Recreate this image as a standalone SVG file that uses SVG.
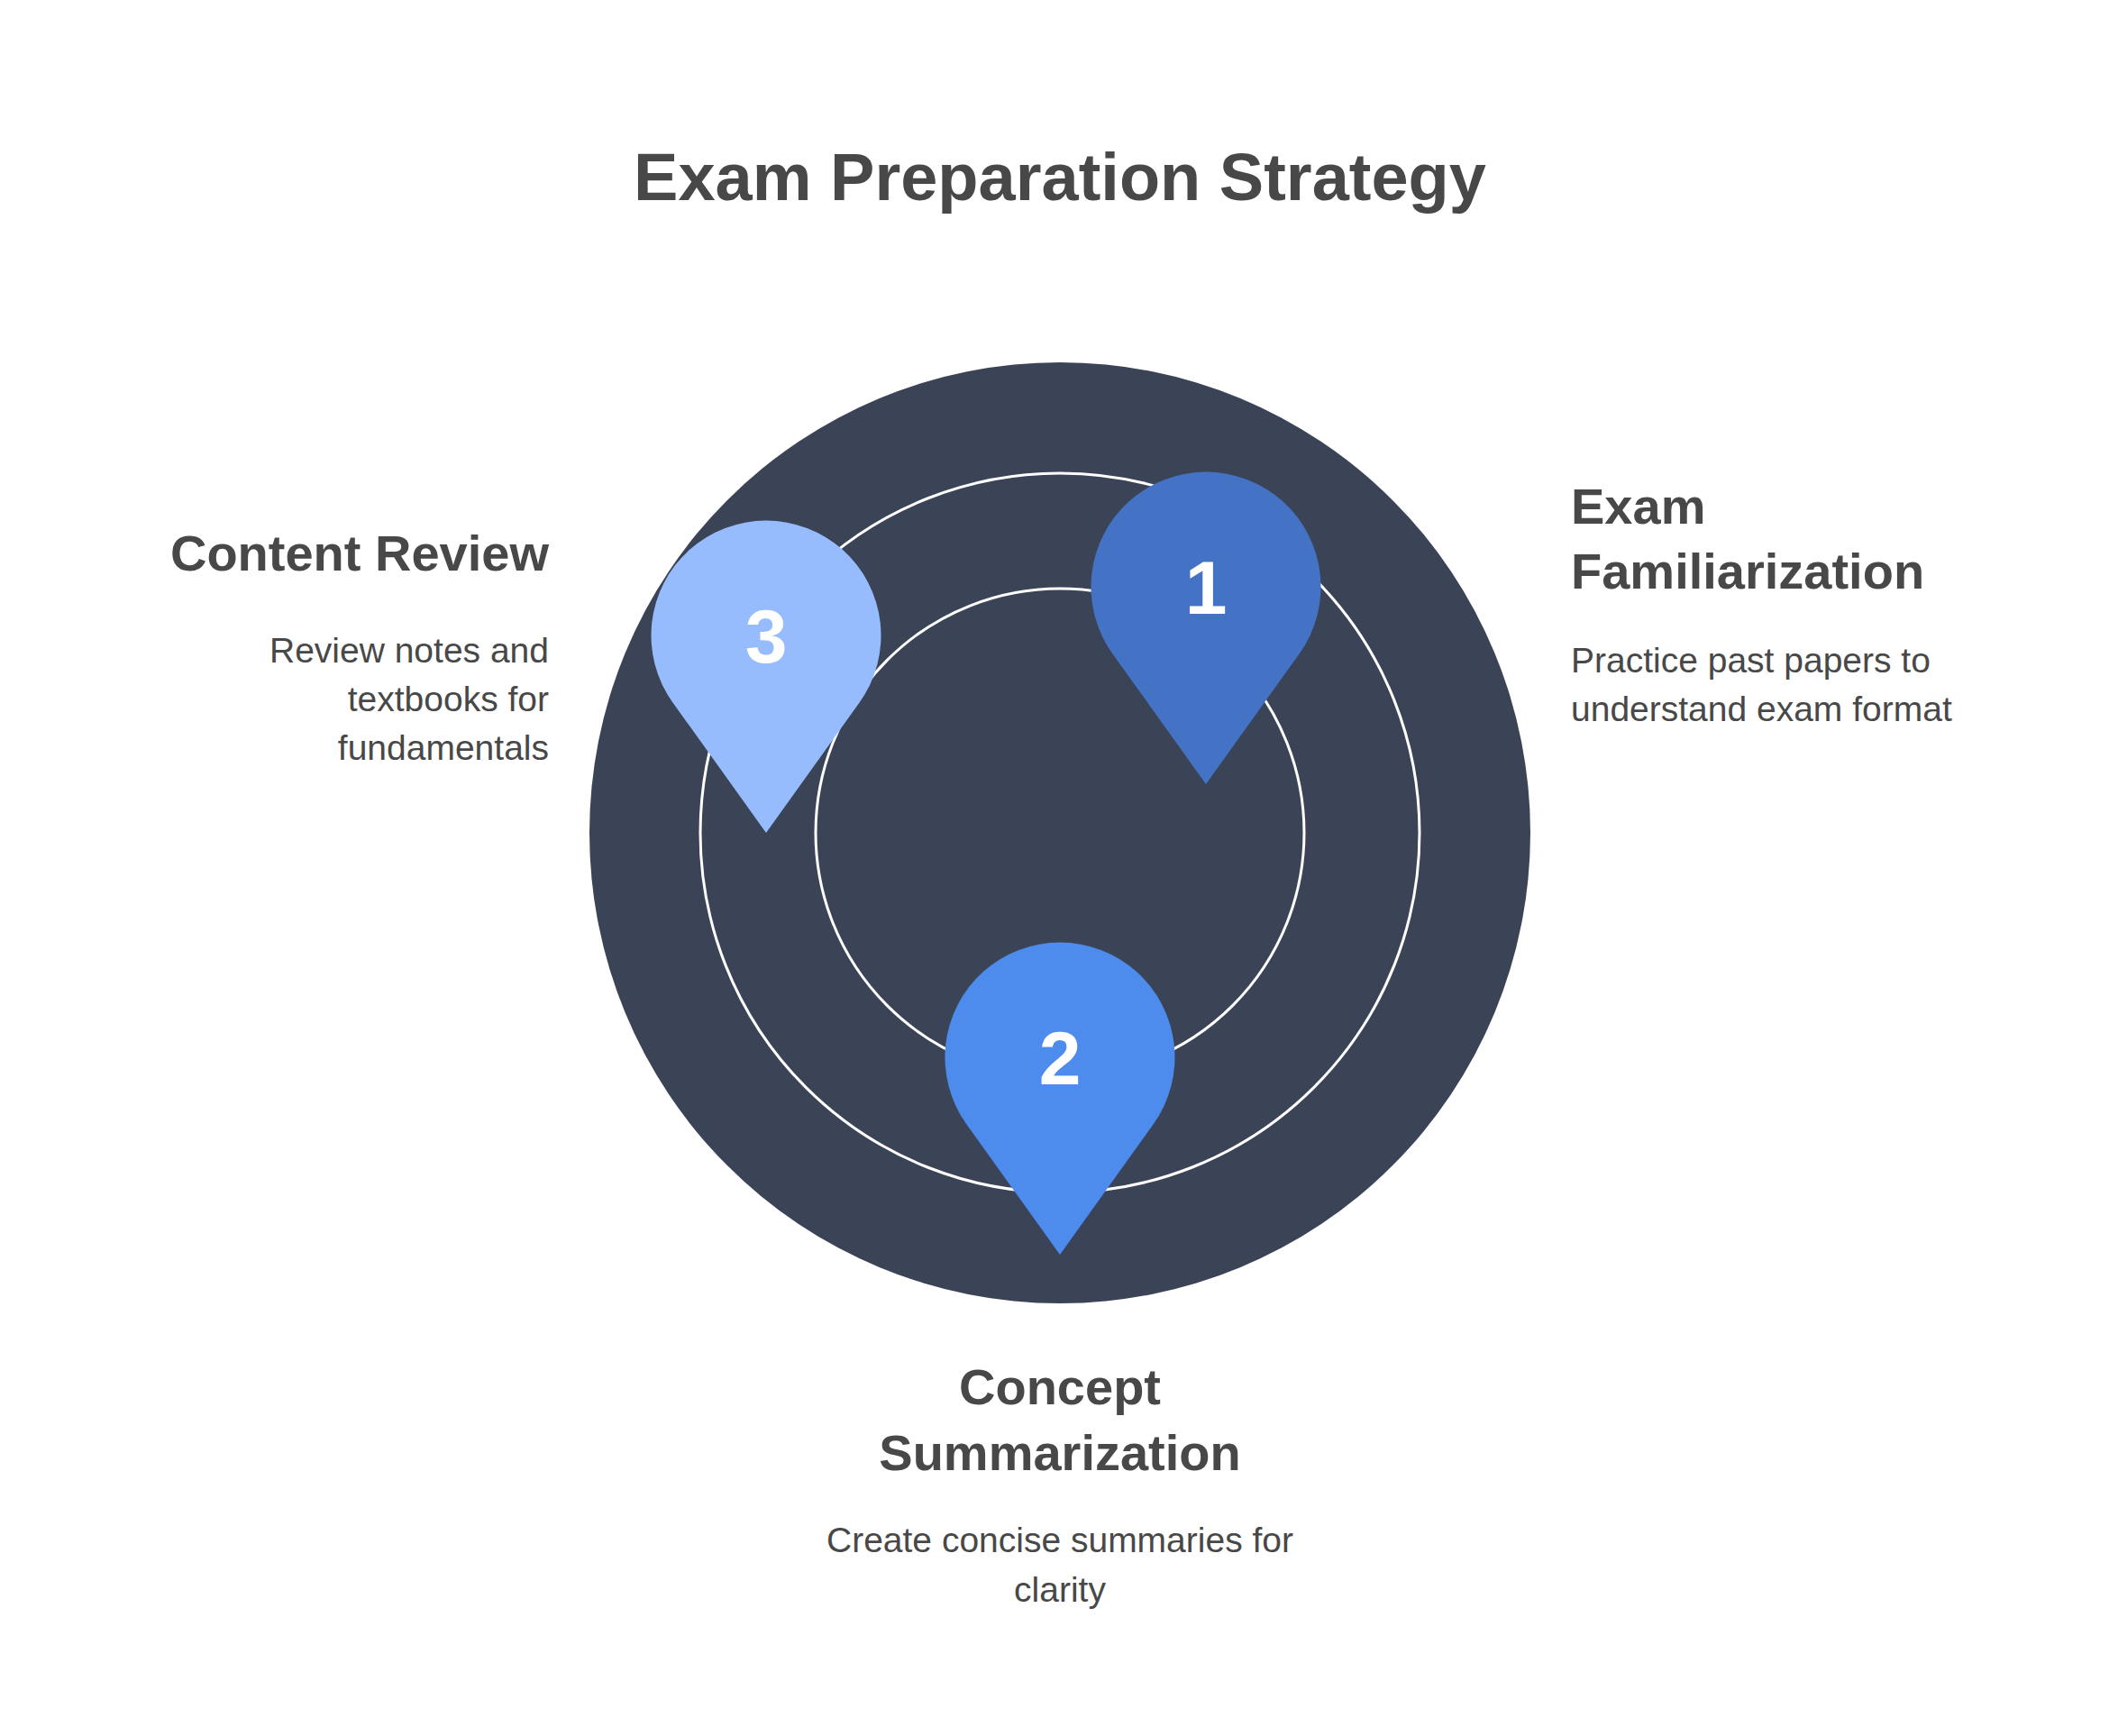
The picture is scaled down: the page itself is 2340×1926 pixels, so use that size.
<svg xmlns="http://www.w3.org/2000/svg" width="2340" height="1926" viewBox="0 0 2340 1926">
<style>
text{font-family:"Liberation Sans",Arial,sans-serif;fill:#484848}
.t{font-size:56px;font-weight:bold}
.d{font-size:39px}
.n{font-size:84px;font-weight:bold;fill:#fff}
.ring{fill:none;stroke:#fff;stroke-width:3}
</style>
<defs><path id="pin" d="M0,219 L-103.7,74.2 A127.5,127.5 0 1 1 103.7,74.2 Z"/></defs>
<rect width="2340" height="1926" fill="#fff"/>
<text x="1176" y="222" text-anchor="middle" style="font-size:74px;font-weight:bold">Exam Preparation Strategy</text>
<g id="base">
<circle cx="1176" cy="924" r="522" fill="#3b4456"/>
<circle class="ring" cx="1176" cy="924" r="399"/>
<circle class="ring" cx="1176" cy="924" r="271"/>
</g>
<g id="connectors"/>
<g id="pin1"><use href="#pin" x="1338" y="651" fill="#4472c4"/><text class="n" x="1338" y="681" text-anchor="middle">1</text></g>
<g id="pin2"><use href="#pin" x="1176" y="1173" fill="#4d8bec"/><text class="n" x="1176" y="1203" text-anchor="middle">2</text></g>
<g id="pin3"><use href="#pin" x="850" y="705" fill="#97bcfd"/><text class="n" x="850" y="735" text-anchor="middle">3</text></g>
<g id="label1"><text class="t" x="1743" y="581">Exam</text><text class="t" x="1743" y="653">Familiarization</text>
<text class="d" x="1743" y="746">Practice past papers to</text><text class="d" x="1743" y="800">understand exam format</text></g>
<g id="label3" text-anchor="end"><text class="t" x="609" y="633">Content Review</text>
<text class="d" x="609" y="735">Review notes and</text><text class="d" x="609" y="789">textbooks for</text><text class="d" x="609" y="843">fundamentals</text></g>
<g id="label2" text-anchor="middle"><text class="t" x="1176" y="1558">Concept</text><text class="t" x="1176" y="1631">Summarization</text>
<text class="d" x="1176" y="1722">Create concise summaries for</text><text class="d" x="1176" y="1777">clarity</text></g>
</svg>
